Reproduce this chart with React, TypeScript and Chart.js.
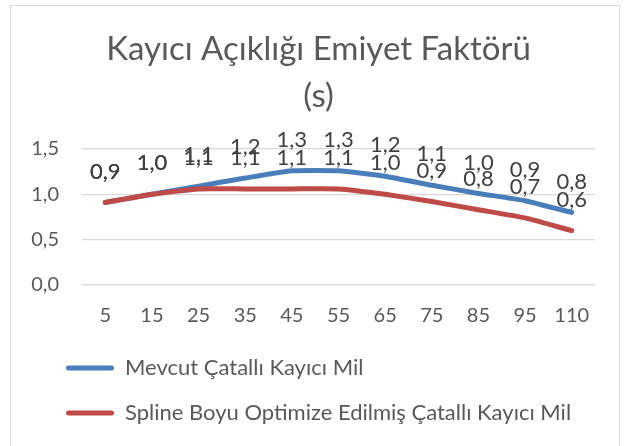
import React, { useEffect, useRef } from "react";
import { Chart, registerables } from "chart.js";

Chart.register(...registerables);

const titleLines = ["Kayıcı Açıklığı Emiyet Faktörü", "(s)"];
const categories = ["5", "15", "25", "35", "45", "55", "65", "75", "85", "95", "110"];
const seriesNames = ["Mevcut Çatallı Kayıcı Mil", "Spline Boyu Optimize Edilmiş Çatallı Kayıcı Mil"];
const mevcut = [0.91, 1.0, 1.09, 1.18, 1.26, 1.26, 1.2, 1.1, 1.01, 0.93, 0.8];
const optimize = [0.91, 1.0, 1.06, 1.06, 1.06, 1.06, 1.0, 0.92, 0.83, 0.74, 0.6];
const yTicks = [0, 0.5, 1.0, 1.5];

const FONT = "Lato, 'Open Sans', sans-serif";
const fmt = (v: number) => v.toFixed(1).replace(".", ",");

const dataLabelPlugin = {
  id: "dataLabels",
  afterDatasetsDraw(chart: any) {
    const ctx = chart.ctx;
    ctx.save();
    ctx.font = `22px ${FONT}`;
    ctx.fillStyle = "#404040";
    ctx.textAlign = "center";
    ctx.textBaseline = "middle";
    chart.data.datasets.forEach((ds: any, i: number) => {
      const meta = chart.getDatasetMeta(i);
      meta.data.forEach((el: any, j: number) => {
        ctx.fillText(fmt(ds.data[j]), el.x, el.y - 31);
      });
    });
    ctx.restore();
  },
};

const boxShiftPlugin = {
  id: "boxShift",
  afterLayout(chart: any) {
    if (chart.legend) chart.legend.left += 15;
    if (chart.titleBlock) {
      chart.titleBlock.left += 7;
      chart.titleBlock.right += 7;
    }
  },
};

export default function App() {
  const ref = useRef<HTMLCanvasElement>(null);
  useEffect(() => {
    document.body.style.margin = "0";
    const chart = new Chart(ref.current!, {
      type: "line",
      data: {
        labels: categories,
        datasets: [
          {
            label: seriesNames[0],
            data: mevcut,
            borderColor: "#4A7EBB",
            backgroundColor: "#4A7EBB",
            borderWidth: 5,
            borderCapStyle: "round",
            pointRadius: 0,
            tension: 0.15,
            order: 1,
          },
          {
            label: seriesNames[1],
            data: optimize,
            borderColor: "#BE4B48",
            backgroundColor: "#BE4B48",
            borderWidth: 5,
            borderCapStyle: "round",
            pointRadius: 0,
            tension: 0.15,
            order: 0,
          },
        ],
      },
      options: {
        animation: false,
        responsive: false,
        layout: { padding: { left: 17, right: 24, top: 0, bottom: 15 } },
        plugins: {
          title: {
            display: true,
            text: titleLines,
            color: "#595959",
            font: { family: FONT, size: 33, weight: "normal", lineHeight: 1.4242 },
            padding: { top: 20, bottom: 29 },
          },
          legend: {
            position: "bottom",
            align: "start",
            labels: {
              color: "#595959",
              font: { family: FONT, size: 22 },
              boxWidth: 48,
              boxHeight: 5,
              padding: 23,
              useBorderRadius: true,
              borderRadius: 2.5,
              generateLabels: (chart: any) =>
                chart.data.datasets.map((ds: any, i: number) => ({
                  text: ds.label,
                  fillStyle: ds.borderColor,
                  strokeStyle: ds.borderColor,
                  lineWidth: 0,
                  fontColor: "#595959",
                  borderRadius: 2.5,
                  datasetIndex: i,
                  hidden: false,
                })),
            },
          },
          tooltip: { enabled: false },
        },
        scales: {
          x: {
            offset: true,
            grid: { display: false, drawTicks: false },
            border: { display: false },
            afterFit: (scale: any) => {
              scale.height = 49;
            },
            ticks: { color: "#595959", font: { family: FONT, size: 20 }, padding: 19, maxRotation: 0, autoSkip: false },
          },
          y: {
            min: 0,
            max: 1.5,
            afterBuildTicks: (scale: any) => {
              scale.ticks = yTicks.map((v) => ({ value: v }));
            },
            afterFit: (scale: any) => {
              scale.width = 54;
            },
            grid: { color: "#D9D9D9", lineWidth: 1.3, drawTicks: false },
            border: { display: false },
            ticks: {
              color: "#595959",
              font: { family: FONT, size: 20 },
              padding: 23,
              callback: (v: any) => fmt(Number(v)),
            },
          },
        },
      },
      plugins: [dataLabelPlugin, boxShiftPlugin],
    });
    return () => chart.destroy();
  }, []);
  return (
    <div
      style={{
        position: "absolute",
        left: 10,
        top: 5,
        width: 610,
        height: 445,
        border: "1px solid #D9D9D9",
        boxSizing: "border-box",
      }}
    >
      <canvas ref={ref} width={608} height={443} style={{ display: "block" }} />
    </div>
  );
}
